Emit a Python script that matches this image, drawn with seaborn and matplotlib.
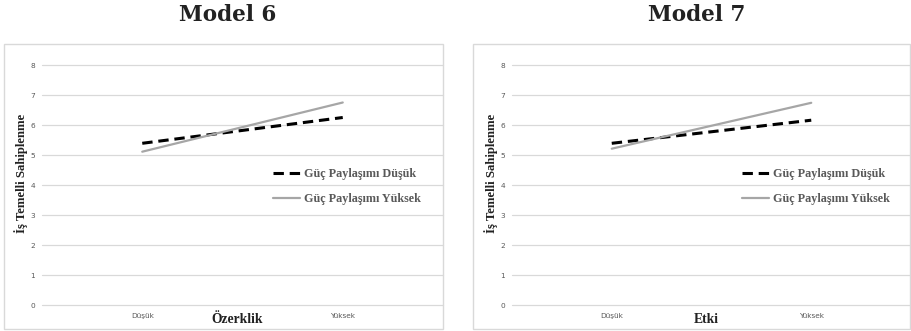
import matplotlib
matplotlib.use("Agg")
import matplotlib.pyplot as plt
import seaborn as sns
import pandas as pd
from matplotlib.patches import Rectangle

# Data
levels = ["Düşük", "Yüksek"]
groups = ["Güç Paylaşımı Düşük", "Güç Paylaşımı Yüksek"]
model6_low = [5.39, 6.25]
model6_high = [5.11, 6.75]
model7_low = [5.39, 6.16]
model7_high = [5.21, 6.74]
titles = ["Model 6", "Model 7"]
xlabels = ["Özerklik", "Etki"]
ylabel = "İş Temelli Sahiplenme"
yticks = [0, 1, 2, 3, 4, 5, 6, 7, 8]

sns.set_theme(style="white")
plt.rcParams["font.family"] = ["DejaVu Sans"]

fig = plt.figure(figsize=(9.11, 3.31), dpi=100)
W, H = 911, 331
SERIF = ["Liberation Serif", "DejaVu Serif"]

def frame(x0, y0, x1, y1):
    fig.patches.append(Rectangle((x0 / W, 1 - y1 / H), (x1 - x0) / W, (y1 - y0) / H,
                                 transform=fig.transFigure, fill=False,
                                 edgecolor="#d9d9d9", lw=1.0))

panels = [
    dict(ax=(42, 443), box=(4, 44, 443, 329), title_x=228, low=model6_low, high=model6_high),
    dict(ax=(512, 911), box=(473, 44, 910, 329), title_x=697, low=model7_low, high=model7_high),
]

palette = {groups[0]: "black", groups[1]: "#a6a6a6"}

for i, p in enumerate(panels):
    frame(*p["box"])
    x0, x1 = p["ax"]
    ax = fig.add_axes([x0 / W, 1 - 305 / H, (x1 - x0) / W, 240 / H])
    df = pd.DataFrame({
        "pos": list(range(len(levels))) * 2,
        "value": p["low"] + p["high"],
        "group": [groups[0]] * len(levels) + [groups[1]] * len(levels),
    })
    sns.lineplot(data=df, x="pos", y="value", hue="group", palette=palette, ax=ax,
                 legend=False)
    lines = ax.get_lines()
    lines[0].set_linewidth(2.2)
    lines[0].set_dashes([3.4, 1.9])
    lines[1].set_linewidth(1.6)

    ax.set_xlim(-0.5, 1.5)
    ax.set_ylim(0, 8)
    ax.set_yticks(yticks)
    ax.set_xticks(range(len(levels)))
    ax.set_xticklabels(levels)
    ax.tick_params(axis="both", length=0, labelsize=5.3, colors="#595959", pad=5)
    ax.tick_params(axis="x", pad=6)
    ax.grid(axis="y", color="#d9d9d9", lw=0.9)
    ax.grid(axis="x", visible=False)
    for g in ax.yaxis.get_gridlines():
        g.set_clip_on(False)
    for s in ax.spines.values():
        s.set_visible(False)
    ax.set_facecolor("none")

    ax.set_xlabel(xlabels[i], fontsize=9.8, fontweight="bold", family=SERIF,
                  color="#222222")
    ax.xaxis.set_label_coords(0.487, -0.032)
    ax.set_ylabel(ylabel, fontsize=9.2, fontweight="bold", family=SERIF,
                  color="#222222")
    ax.yaxis.set_label_coords(-0.036, 0.55)

    ax.legend(lines, groups, loc="upper left", bbox_to_anchor=(0.55, 0.615),
              frameon=False, handlelength=2.2, handletextpad=0.3, labelspacing=1.08,
              prop=dict(family=SERIF, weight="bold", size=8.7),
              labelcolor="#595959")

    fig.text(p["title_x"] / W, 1 - 15 / H, titles[i], ha="center", va="center",
             fontsize=15.5, fontweight="bold", family="DejaVu Serif", color="#222222")

fig.savefig("out.png", dpi=100)
